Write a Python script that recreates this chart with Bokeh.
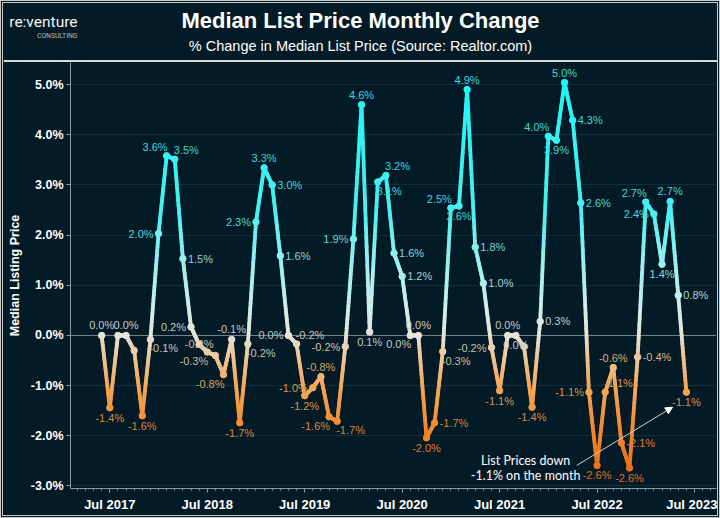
import numpy as np
from bokeh.plotting import figure
from bokeh.layouts import column
from bokeh.models import (Range1d, FixedTicker, ColumnDataSource, Span, Arrow, NormalHead,
                          CustomJSTickFormatter, InlineStyleSheet)
from bokeh.core.properties import value
from bokeh.embed import file_html
from bokeh.resources import INLINE

# ---------------- data (monthly % change in median list price) ----------------
first_year, first_month = 2017, 6          # series starts Jun 2017
pct_2017 = [0.0, -1.44, 0.0, 0.0, -0.30, -1.60, -0.08]                              # Jun-Dec
pct_2018 = [2.03, 3.58, 3.51, 1.53, 0.17, -0.18, -0.33, -0.40, -0.78, -0.08, -1.74, -0.17]
pct_2019 = [2.26, 3.34, 3.0, 1.59, 0.0, -0.17, -1.20, -1.04, -0.82, -1.62, -1.71, -0.22]
pct_2020 = [1.92, 4.6, 0.07, 3.06, 3.19, 1.64, 1.18, 0.0, 0.0, -2.04, -1.74, -0.32]
pct_2021 = [2.54, 2.58, 4.9, 1.76, 1.04, -0.24, -1.10, 0.0, 0.0, -0.22, -1.43, 0.28]
pct_2022 = [3.97, 3.89, 5.04, 4.29, 2.64, -1.13, -2.59, -1.13, -0.64, -2.14, -2.64, -0.43]
pct_2023 = [2.66, 2.42, 1.42, 2.67, 0.80, -1.13]                                    # Jan-Jun

x_tick_labels = ["Jul 2017", "Jul 2018", "Jul 2019", "Jul 2020", "Jul 2021", "Jul 2022", "Jul 2023"]
y_ticks = [-3, -2, -1, 0, 1, 2, 3, 4, 5]

title_text = "Median List Price Monthly Change"
subtitle_text = "% Change in Median List Price (Source: Realtor.com)"
logo_text = "re:venture"
logo_sub = "CONSULTING"

# label placement per point ('' = no visible label)
place_2017 = ['a', 'b', '', 'a', '', 'b', 'br']
place_2018 = ['l', 'al', 'ar', 'r', 'l', 'c', 'bl', '', 'bl', 'a', 'b', 'br']
place_2019 = ['l', 'a', 'r', 'r', 'l', 'ar', 'b', 'l', 'a', 'bl', 'br', 'l']
place_2020 = ['l', 'a', 'b', 'br', 'ar', 'r', 'r', 'bl', 'a', 'b', 'r', 'br']
place_2021 = ['al', 'b', 'a', 'r', 'r', 'l', 'b', 'a', 'b', '', 'b', 'r']
place_2022 = ['al', 'b', 'a', 'r', 'r', 'l', 'b', 'ar', 'a', 'r', 'b', 'r']
place_2023 = ['al', 'l', 'b', 'a', 'r', 'b']

values = pct_2017 + pct_2018 + pct_2019 + pct_2020 + pct_2021 + pct_2022 + pct_2023
places = place_2017 + place_2018 + place_2019 + place_2020 + place_2021 + place_2022 + place_2023
n = len(values)
xs = list(range(n))                                   # month index, 0 = Jun 2017
jul_ticks = [i for i in range(n + 1) if (first_month - 1 + i) % 12 == 6]

# ---------------- style ----------------
BG = "#031b26"
FONT = "Liberation Sans"
BORDER = 3
W_IN, H_IN = 720 - 2 * BORDER, 518 - 2 * BORDER
HEADER_H = 59

line_stops = [(-2.7, (238, 110, 22)), (-2.0, (243, 132, 38)), (-1.0, (246, 168, 88)),
              (-0.3, (236, 206, 168)), (0.0, (232, 228, 216)), (0.5, (208, 238, 234)),
              (1.5, (150, 240, 240)), (2.5, (70, 240, 242)), (5.1, (30, 246, 246))]
label_stops = [(-2.7, (225, 108, 30)), (-1.4, (222, 138, 58)), (-0.8, (220, 162, 92)),
               (-0.3, (208, 190, 162)), (0.0, (200, 200, 200)), (1.0, (172, 214, 214)),
               (1.6, (140, 214, 218)), (2.0, (92, 210, 214)), (3.0, (62, 214, 220)), (5.1, (55, 218, 222))]


def cmap(v, stops):
    ks = [s[0] for s in stops]
    if v <= ks[0]:
        c = stops[0][1]
    elif v >= ks[-1]:
        c = stops[-1][1]
    else:
        j = int(np.searchsorted(ks, v)) - 1
        t = (v - ks[j]) / (ks[j + 1] - ks[j])
        c = tuple(stops[j][1][k] + t * (stops[j + 1][1][k] - stops[j][1][k]) for k in range(3))
    return "#%02x%02x%02x" % tuple(int(round(ch)) for ch in c)


# ---------------- header ----------------
h = figure(width=W_IN, height=HEADER_H, output_backend="svg", toolbar_location=None,
           x_range=Range1d(0, W_IN), y_range=Range1d(HEADER_H, 0),
           x_axis_location=None, y_axis_location=None,
           min_border_left=0, min_border_right=0, min_border_top=0, min_border_bottom=0,
           background_fill_color=BG, border_fill_color=BG, outline_line_color=None)
h.frame_align = False
h.grid.grid_line_color = None
h.text(x=[W_IN / 2], y=[17], text=[title_text], text_font=value(FONT), text_font_style="bold",
       text_font_size="22px", text_color="#ffffff", text_align="center", text_baseline="middle")
h.text(x=[W_IN / 2], y=[42], text=[subtitle_text], text_font=value(FONT),
       text_font_size="14.5px", text_color="#ffffff", text_align="center", text_baseline="middle")
h.text(x=[74], y=[18], text=[logo_text], text_font=value("Roboto"),
       text_font_size="15.5px", text_color="#f4f4f4", text_align="right", text_baseline="middle")
h.text(x=[74], y=[32], text=[logo_sub], text_font=value("Roboto"),
       text_font_size="6.8px", text_color="#b8bec2", text_align="right", text_baseline="middle")
h.quad(left=[0], right=[W_IN], top=[HEADER_H - 2.5], bottom=[HEADER_H], fill_color="#d8d8d8",
       line_color=None)

# ---------------- main chart ----------------
p = figure(width=W_IN, height=H_IN - HEADER_H, output_backend="svg", toolbar_location=None,
           x_range=Range1d(-3.84, 75.71), y_range=Range1d(-3.05, 5.44),
           min_border_left=70 - BORDER, min_border_right=1, min_border_top=0,
           min_border_bottom=(518 - BORDER) - 488,
           background_fill_color=BG, border_fill_color=BG, outline_line_color=None)
p.frame_align = False

AX = "#8c9aa0"
p.yaxis.ticker = FixedTicker(ticks=y_ticks)
p.yaxis.formatter = CustomJSTickFormatter(code="return tick.toFixed(1) + '%';")
p.yaxis.axis_label = "Median Listing Price"
p.yaxis.axis_label_text_font = FONT
p.yaxis.axis_label_text_font_style = "bold"
p.yaxis.axis_label_text_font_size = "12.5px"
p.yaxis.axis_label_text_color = "#ffffff"
p.yaxis.axis_label_standoff = 6
p.yaxis.major_label_text_font = FONT
p.yaxis.major_label_text_font_style = "bold"
p.yaxis.major_label_text_font_size = "12.5px"
p.yaxis.major_label_text_color = "#ffffff"
p.yaxis.major_label_standoff = 3
p.yaxis.major_tick_out = 4
p.yaxis.major_tick_in = 0
p.yaxis.minor_tick_out = 0
p.yaxis.minor_tick_in = 0
p.yaxis.axis_line_color = AX
p.yaxis.major_tick_line_color = AX

p.xaxis.ticker = FixedTicker(ticks=jul_ticks, minor_ticks=list(range(-3, 76)))
p.xaxis.major_label_overrides = {t: lab for t, lab in zip(jul_ticks, x_tick_labels)}
p.xaxis.major_label_text_font = FONT
p.xaxis.major_label_text_font_style = "bold"
p.xaxis.major_label_text_font_size = "13px"
p.xaxis.major_label_text_color = "#ffffff"
p.xaxis.major_label_standoff = 4
p.xaxis.major_tick_out = 4
p.xaxis.major_tick_in = 0
p.xaxis.minor_tick_out = 2
p.xaxis.minor_tick_in = 0
p.xaxis.axis_line_color = AX
p.xaxis.major_tick_line_color = AX
p.xaxis.minor_tick_line_color = AX

p.xgrid.grid_line_color = None
p.ygrid.ticker = FixedTicker(ticks=y_ticks)
p.ygrid.grid_line_color = "#12303b"
p.ygrid.grid_line_width = 1

p.add_layout(Span(location=0, dimension="width", line_color="#d8d8d8", line_dash="1 1",
                  line_width=1, level="underlay"))

# gradient line (each month-to-month segment drawn in short pieces coloured by level)
PIECES = 24
sx0, sy0, sx1, sy1, scol = [], [], [], [], []
for i in range(n - 1):
    xa, ya, xb, yb = xs[i], values[i], xs[i + 1], values[i + 1]
    for k in range(PIECES):
        t0, t1 = k / PIECES, (k + 1) / PIECES
        sx0.append(xa + (xb - xa) * t0); sy0.append(ya + (yb - ya) * t0)
        sx1.append(xa + (xb - xa) * t1); sy1.append(ya + (yb - ya) * t1)
        scol.append(cmap(ya + (yb - ya) * (t0 + t1) / 2, line_stops))
seg = ColumnDataSource(dict(x0=sx0, y0=sy0, x1=sx1, y1=sy1, c=scol))
p.segment("x0", "y0", "x1", "y1", source=seg, line_color="c", line_width=3.8, line_cap="round")

pts = ColumnDataSource(dict(x=xs, y=values, c=[cmap(v, line_stops) for v in values]))
p.scatter("x", "y", source=pts, size=6.5, fill_color="c", line_color="c")

offsets = {'a': (0, -4, 'center', 'bottom'), 'b': (0, 4, 'center', 'top'),
           'l': (-5, 0, 'right', 'middle'), 'r': (5, 0, 'left', 'middle'),
           'al': (1, -3, 'right', 'bottom'), 'ar': (-1, -3, 'left', 'bottom'),
           'bl': (1, 3, 'right', 'top'), 'br': (-1, 3, 'left', 'top'),
           'c': (0, 0, 'center', 'middle')}
for code, (dx, dy, al, bl) in offsets.items():
    idx = [i for i in range(n) if places[i] == code]
    if not idx:
        continue
    src = ColumnDataSource(dict(x=[xs[i] for i in idx], y=[values[i] for i in idx],
                                t=["%.1f%%" % values[i] for i in idx],
                                c=[cmap(values[i], label_stops) for i in idx]))
    p.text("x", "y", text="t", source=src, text_color="c", text_font=value(FONT),
           text_font_size="11px", text_align=al, text_baseline=bl,
           x_offset=dx, y_offset=dy)

# call-out
last = n - 1
note_lines = ["List Prices down", "%.1f%% on the month" % values[last]]
note = ColumnDataSource(dict(x=[xs[last] - 19.8] * 2, y=[-2.49, -2.79], t=note_lines))
p.text("x", "y", text="t", source=note, text_color="#ffffff", text_font=value("Lato"),
       text_font_size="12.5px", text_align="center", text_baseline="middle")
p.add_layout(Arrow(end=NormalHead(size=7, fill_color="#ffffff", line_color="#ffffff"),
                   x_start=xs[last] - 13.5, y_start=-2.59, x_end=xs[last] - 1.7, y_end=-1.43,
                   line_color="#d0d0d0", line_width=1))

frame_css = InlineStyleSheet(css=":host { border: %dpx double #c8c8c8; background-color: %s; }"
                             % (BORDER, BG))
layout = column(h, p, spacing=0, stylesheets=[frame_css])

open("out.html", "w").write(file_html(layout, INLINE))
